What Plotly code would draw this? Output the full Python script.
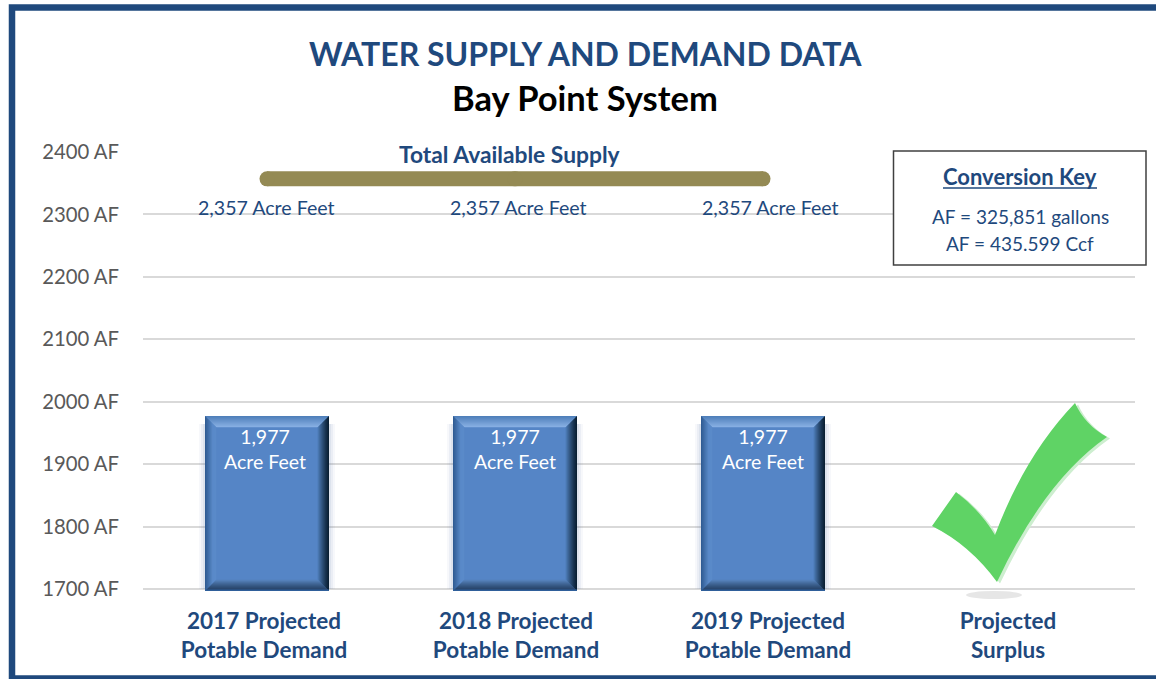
import plotly.graph_objects as go

W, H = 1156, 679
FONT = "Lato"
NAVY = "#1f497d"

# ---- data ----
categories = ["2017 Projected<br>Potable Demand", "2018 Projected<br>Potable Demand",
              "2019 Projected<br>Potable Demand", "Projected<br>Surplus"]
demand = [1977, 1977, 1977, None]
demand_labels = ["1,977<br>Acre Feet", "1,977<br>Acre Feet", "1,977<br>Acre Feet", ""]
supply = [2357, 2357, 2357]
supply_labels = ["2,357 Acre Feet", "2,357 Acre Feet", "2,357 Acre Feet"]
y_ticks = [1700, 1800, 1900, 2000, 2100, 2200, 2300, 2400]
y_tick_labels = ["1700 AF", "1800 AF", "1900 AF", "2000 AF", "2100 AF", "2200 AF", "2300 AF", "2400 AF"]

# ---- layout geometry (pixels) ----
PL, PR, PT, PB = 143, 1135, 152, 589
YMIN, YMAX = 1700, 2400
pos = list(range(len(categories)))
UX = (PR - PL) / 4
UY = (PB - PT) / (YMAX - YMIN)
BAR_W = 0.5
EXTRA = 2  # pixels of plot area kept below the lowest gridline for the bar foot
def X(px): return px / W
def Y(py): return 1 - py / H
def mix(a, b, t):
    ca = [int(a[i:i+2], 16) for i in (1, 3, 5)]
    cb = [int(b[i:i+2], 16) for i in (1, 3, 5)]
    return "rgb(%d,%d,%d)" % tuple(round(p + (q - p) * t) for p, q in zip(ca, cb))
def pxpath(cmds):
    out = []
    for c in cmds:
        if isinstance(c, str):
            out.append(c)
        else:
            out.append(f"{X(c[0]):.5f},{Y(c[1]):.5f}")
    return " ".join(out)

fig = go.Figure()
fig.add_bar(x=pos, y=demand, width=BAR_W, marker=dict(color="#5585c6", line=dict(width=0)))
fig.add_scatter(x=pos[:3], y=supply, mode="lines+markers",
                line=dict(color="#948a54", width=15), marker=dict(color="#948a54", size=15, line=dict(width=0)))

shapes = []
# bevel of the bars, derived from the data values
BEVEL = 11
def band(cx, v, side, d1, d2, color):
    l, r = cx - BAR_W / 2, cx + BAR_W / 2
    t, b = v, YMIN - EXTRA / UY
    ax, ay = d1 / UX, d1 / UY
    cx2, cy2 = d2 / UX, d2 / UY
    if side == "top":
        p = [(l+ax, t-ay), (r-ax, t-ay), (r-cx2, t-cy2), (l+cx2, t-cy2)]
    elif side == "bottom":
        p = [(l+ax, b+ay), (r-ax, b+ay), (r-cx2, b+cy2), (l+cx2, b+cy2)]
    elif side == "left":
        p = [(l+ax, t-ay), (l+cx2, t-cy2), (l+cx2, b+cy2), (l+ax, b+ay)]
    else:
        p = [(r-ax, t-ay), (r-cx2, t-cy2), (r-cx2, b+cy2), (r-ax, b+ay)]
    path = "M " + " L ".join(f"{a:.4f},{c:.2f}" for a, c in p) + " Z"
    return dict(type="path", path=path, xref="x", yref="y", fillcolor=color,
                line=dict(width=0), layer="above")

STRIPS = 11
for i, v in zip(pos, demand):
    if v is None:
        continue
    # soft halo
    for k, op in ((6, 0.05), (4, 0.07), (2, 0.09)):
        shapes.append(dict(type="rect", xref="x", yref="y", layer="between",
                           x0=i - BAR_W/2 - k/UX, x1=i + BAR_W/2 + k/UX, y0=YMIN, y1=v - 8/UY,
                           fillcolor=f"rgba(90,120,170,{op})", line=dict(width=0)))
    for s in range(STRIPS):
        t = s / STRIPS
        d1, d2 = BEVEL * t, BEVEL * (t + 1 / STRIPS) + 0.3
        shapes.append(band(i, v, "top", d1, d2, mix("#4f7fba", "#86aee2", min(1, t * 1.1))))
        shapes.append(band(i, v, "left", d1, d2, mix("#315d94", "#5a8ac9", min(1, t * 1.5))))
        shapes.append(band(i, v, "right", d1, d2, mix("#0b2135", "#5181bf", t ** 1.2)))
        shapes.append(band(i, v, "bottom", d1, d2, mix("#243f63", "#5a89c4", t ** 1.3)))
    # thin blue foot of the bar
    shapes.append(dict(type="line", xref="x", yref="y", layer="above", x0=i - BAR_W/2, x1=i + BAR_W/2,
                       y0=YMIN - (EXTRA - 0.75) / UY, y1=YMIN - (EXTRA - 0.75) / UY,
                       line=dict(color="#2f5f9a", width=1.5)))

# frame
shapes.append(dict(type="rect", xref="paper", yref="paper", x0=X(12), x1=X(1180), y0=Y(7.5), y1=Y(678.5),
                   line=dict(color=NAVY, width=6.5), fillcolor="rgba(0,0,0,0)", layer="above"))
# conversion key box
shapes.append(dict(type="rect", xref="paper", yref="paper", x0=X(893.5), x1=X(1146), y0=Y(151), y1=Y(265),
                   line=dict(color="#404040", width=1.5), fillcolor="white", layer="above"))
# underline of the key heading
shapes.append(dict(type="line", xref="paper", yref="paper", x0=X(943), x1=X(1097), y0=Y(188), y1=Y(188),
                   line=dict(color=NAVY, width=1.5), layer="above"))
# check mark
def check(dx, dy):
    q = lambda x, y: (x + dx, y + dy)
    return pxpath(["M", q(932, 526), "L", q(956, 492), "Q", q(980, 510), q(995, 535),
                   "Q", q(1025, 455), q(1075, 403), "Q", q(1085, 425), q(1107, 437),
                   "Q", q(1045, 480), q(997, 582), "Q", q(970, 545), q(932, 526), "Z"])
shapes.append(dict(type="circle", xref="paper", yref="paper", x0=X(966), x1=X(1022), y0=Y(591), y1=Y(599),
                   fillcolor="#e6e6e6", line=dict(width=0), layer="above"))
shapes.append(dict(type="path", xref="paper", yref="paper", path=check(3, 1.5), fillcolor="#cdeecf",
                   line=dict(width=0), layer="above"))
shapes.append(dict(type="path", xref="paper", yref="paper", path=check(0, 0), fillcolor="#5fd365",
                   line=dict(width=0), layer="above"))

ann = []
def text(px, py, s, size, color=NAVY):
    ann.append(dict(x=X(px), y=Y(py), xref="paper", yref="paper", text=s, showarrow=False,
                    xanchor="center", yanchor="middle",
                    font=dict(family=FONT, size=size, color=color)))
text(585, 54, "<b>WATER SUPPLY AND DEMAND DATA</b>", 32)
text(585, 98, "<b>Bay Point System</b>", 34.5, "#000000")
text(510, 154, "<b>Total Available Supply</b>", 22.8)
for px, s in zip((266, 518, 770), supply_labels):
    text(px, 207, s, 19.6)
text(1020, 177, "<b>Conversion Key</b>", 22)
text(1020, 217, "AF = 325,851 gallons", 19)
text(1020, 243, "AF = 435.599 Ccf", 19)
# bar value labels anchored to the bars' data values
for i, v, s, sh in zip(pos, demand, demand_labels, (-2, 0, 0, 0)):
    if v is None:
        continue
    ann.append(dict(x=i, y=v, xref="x", yref="y", text=s, showarrow=False, xanchor="center", yanchor="top",
                    yshift=-7, xshift=sh, font=dict(family=FONT, size=19.5, color="white")))

label_shift = [-3, 1, 5, -3]
fig.update_layout(
    width=W, height=H, margin=dict(l=0, r=0, t=0, b=0), autosize=False,
    paper_bgcolor="white", plot_bgcolor="white", showlegend=False, hovermode=False,
    shapes=shapes, annotations=ann,
    xaxis=dict(domain=[X(PL), X(PR)], range=[-0.5, 3.5], showgrid=False, zeroline=False, showline=False,
               automargin=False,
               tickmode="array", tickvals=[p + s / UX for p, s in zip(pos, label_shift)],
               ticktext=[f"<b>{c.split('<br>')[0]}</b><br><b>{c.split('<br>')[1]}</b>" for c in categories],
               ticks="outside", ticklen=10, tickcolor="rgba(0,0,0,0)",
               tickfont=dict(family=FONT, size=22.5, color=NAVY), tickangle=0),
    yaxis=dict(domain=[Y(PB + EXTRA), Y(PT)], range=[YMIN - EXTRA / UY, YMAX], tickmode="array", tickvals=y_ticks,
               automargin=False,
               ticktext=y_tick_labels, showgrid=True, gridcolor="#d9d9d9", gridwidth=2, zeroline=False,
               showline=False, ticks="outside", ticklen=19, tickcolor="rgba(0,0,0,0)",
               tickfont=dict(family=FONT, size=20.3, color="#595959")),
)
fig.write_html("out.html", config=dict(displayModeBar=False),
               post_script="document.body.style.margin='0';")
